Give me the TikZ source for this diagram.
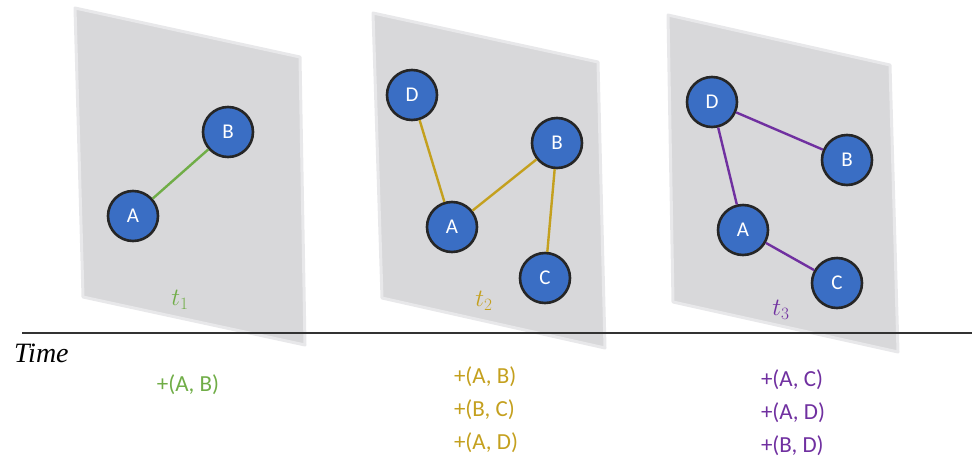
\documentclass[tikz,border=0pt]{standalone}
\usepackage{fontspec}
\newfontfamily\lab{Carlito}
\newfontfamily\timefont{Liberation Serif}
\definecolor{panelgray}{RGB}{216,216,218}
\definecolor{paneledge}{RGB}{232,232,234}
\definecolor{nodeblue}{RGB}{58,110,196}
\definecolor{cgreen}{RGB}{112,173,71}
\definecolor{cgold}{RGB}{196,160,30}
\definecolor{cpurple}{RGB}{112,48,160}
\begin{document}
\begin{tikzpicture}[x=1pt,y=-1pt,
  panel/.style={fill=panelgray, draw=paneledge, line width=3pt, line join=round},
  vert/.style={circle, fill=nodeblue, draw=black!85, line width=2.6pt, minimum size=50pt, inner sep=0pt, text=white, font=\lab\fontsize{21}{21}\selectfont},
  link/.style={line width=2.4pt},
  tlab/.style={font=\fontsize{26}{26}\selectfont},
  elab/.style={font=\lab\fontsize{23}{33}\selectfont, align=left}]
\useasboundingbox (0,0) rectangle (972,464);
% panels
\draw[panel] (75,8) -- (300,57) -- (305,345) -- (83,297) -- cycle;
\draw[panel] (373,13) -- (598,62) -- (605,348) -- (382,298) -- cycle;
\draw[panel] (668,15) -- (890,65) -- (898,352) -- (673,302) -- cycle;
% panel 1
\node[vert] (A1) at (133,216) {A};
\node[vert] (B1) at (228,132) {B};
\draw[link, cgreen] (A1) -- (B1);
\node[tlab, text=cgreen] (T1) at (180,300) {$t_1$};
% panel 2
\node[vert] (D2) at (412,95) {D};
\node[vert] (B2) at (557,143) {B};
\node[vert] (A2) at (452,227) {A};
\node[vert] (C2) at (545,278) {C};
\draw[link, cgold] (D2) -- (A2) (A2) -- (B2) (B2) -- (C2);
\node[tlab, text=cgold] (T2) at (484,301) {$t_2$};
% panel 3
\node[vert] (D3) at (712,102) {D};
\node[vert] (B3) at (847,160) {B};
\node[vert] (A3) at (743,230) {A};
\node[vert] (C3) at (837,283) {C};
\draw[link, cpurple] (D3) -- (A3) (D3) -- (B3) (A3) -- (C3);
\node[tlab, text=cpurple] (T3) at (781,310) {$t_3$};
% timeline
\coordinate (L0) at (22,333);
\coordinate (L1) at (972,333);
\draw[line width=2pt, black!80] (L0) -- (L1);
\node[font=\timefont\itshape\fontsize{28}{28}\selectfont, anchor=base west, inner sep=0pt] (time) at (14,362) {Time};
% event labels
\node[elab, text=cgreen] (E1) at (188,385) {+(A, B)};
\node[elab, text=cgold, anchor=north] (E2) at (486,363) {+(A, B)\\+(B, C)\\+(A, D)};
\node[elab, text=cpurple, anchor=north] (E3) at (793,366) {+(A, C)\\+(A, D)\\+(B, D)};
\end{tikzpicture}
\end{document}
